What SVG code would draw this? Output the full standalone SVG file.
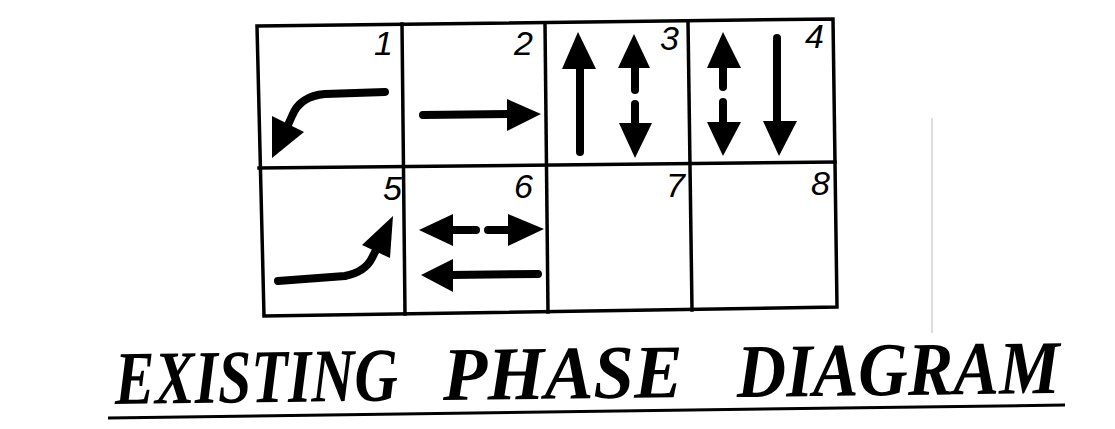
<svg xmlns="http://www.w3.org/2000/svg" width="1115" height="429" viewBox="0 0 1115 429">
<style>
.grid{stroke:#000;stroke-width:3.5;fill:none;stroke-linecap:square}
.sh{stroke:#000;stroke-width:8;fill:none;stroke-linecap:round;stroke-linejoin:round}
.hd{fill:#000}
.num{font-family:"Liberation Sans",Arial,sans-serif;font-style:italic;font-size:34px;fill:#000;text-anchor:end}
.title{font-family:"Liberation Serif","Times New Roman",serif;font-style:italic;font-weight:bold;font-size:76px;fill:#000}
</style>
<rect width="1115" height="429" fill="#fff"/>
<g id="grid">
<polygon class="grid" points="257,26 833,19 837,307 264,316"/>
<line class="grid" x1="259" y1="168" x2="835" y2="162"/>
<line class="grid" x1="402" y1="24" x2="405" y2="314"/>
<line class="grid" x1="545" y1="23" x2="548" y2="312"/>
<line class="grid" x1="688" y1="21" x2="692" y2="310"/>
</g>
<g id="phase1">
<text class="num" x="393" y="55">1</text>
<path class="sh" d="M385,92 L325,94 Q300,96 292,116 L284,134"/>
<polygon class="hd" points="272,116 304,132 272,158"/>
</g>
<g id="phase2">
<text class="num" x="533" y="55">2</text>
<path class="sh" d="M423,115 L508,114"/>
<polygon class="hd" points="507,99 541,114 507,131"/>
</g>
<g id="phase3">
<text class="num" x="679" y="50">3</text>
<path class="sh" d="M580,152 L580,66"/>
<polygon class="hd" points="578,32 562,69 596,69"/>
<path class="sh" d="M635,66 L635,90"/>
<polygon class="hd" points="634,34 618,68 650,68"/>
<path class="sh" d="M635,104 L635,124"/>
<polygon class="hd" points="619,123 652,123 635,158"/>
</g>
<g id="phase4">
<text class="num" x="824" y="48">4</text>
<path class="sh" d="M723,66 L723,87"/>
<polygon class="hd" points="723,32 707,68 741,68"/>
<path class="sh" d="M723,102 L723,124"/>
<polygon class="hd" points="707,122 741,122 723,156"/>
<path class="sh" d="M777,38 L777,124"/>
<polygon class="hd" points="763,121 797,121 779,156"/>
</g>
<g id="phase5">
<text class="num" x="402" y="200">5</text>
<path class="sh" d="M278,281 L345,276 Q365,272 372,258 L378,246"/>
<polygon class="hd" points="393,216 362,245 390,258"/>
</g>
<g id="phase6">
<text class="num" x="533" y="198">6</text>
<path class="sh" d="M450,230 L476,230"/>
<polygon class="hd" points="419,230 453,214 453,246"/>
<path class="sh" d="M488,230 L510,230"/>
<polygon class="hd" points="508,214 508,246 544,229"/>
<path class="sh" d="M450,275 L538,274"/>
<polygon class="hd" points="421,275 453,259 453,292"/>
</g>
<g id="phase7">
<text class="num" x="685" y="197">7</text>
</g>
<g id="phase8">
<text class="num" x="830" y="195">8</text>
</g>
<g id="scanline">
<line x1="932" y1="118" x2="932" y2="333" stroke="#bbb" stroke-width="1"/>
</g>
<g id="title">
<text class="title" x="115" y="404" textLength="283" lengthAdjust="spacingAndGlyphs" transform="rotate(-0.7 115 404)">EXISTING</text>
<text class="title" x="443" y="400" textLength="240" lengthAdjust="spacingAndGlyphs" transform="rotate(-0.7 443 400)">PHASE</text>
<text class="title" x="737" y="397" textLength="323" lengthAdjust="spacingAndGlyphs" transform="rotate(-0.7 737 397)">DIAGRAM</text>
<line x1="108" y1="418" x2="1065" y2="405" stroke="#000" stroke-width="3"/>
</g>
</svg>
